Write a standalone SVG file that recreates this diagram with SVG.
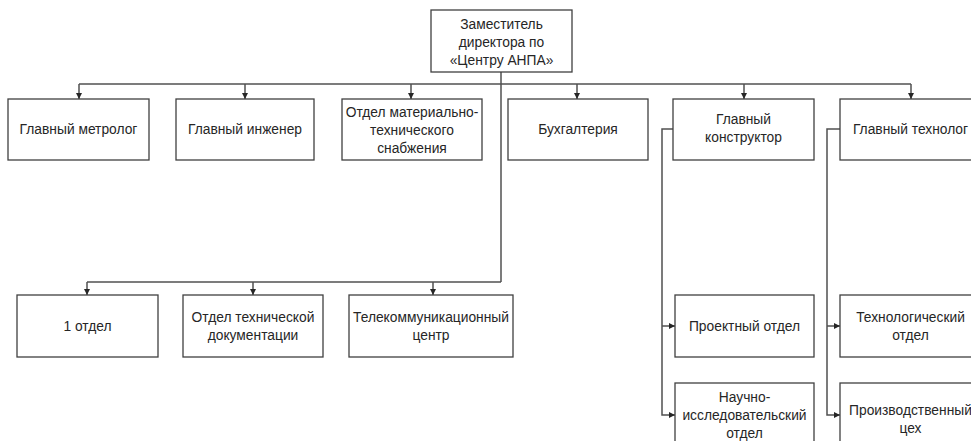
<svg xmlns="http://www.w3.org/2000/svg" width="971" height="441" viewBox="0 0 971 441">
<defs>
<style>
.n rect{fill:#fff;stroke:#404040;stroke-width:1.3}
.n text{font-family:"Liberation Sans",Arial,sans-serif;font-size:13.8px;fill:#262626;text-anchor:middle}
.c path{fill:none;stroke:#505050;stroke-width:1.5}
</style>
<marker id="a" viewBox="0 0 10 10" refX="10" refY="5" markerWidth="6" markerHeight="6" orient="auto" markerUnits="userSpaceOnUse"><path d="M0,0 L10,5 L0,10 z" fill="#262626"/></marker>
</defs>
<rect width="971" height="441" fill="#fff"/>
<g class="c">
<path d="M501,72 V282"/>
<path d="M79,84 H911"/>
<path d="M79,84 V99" marker-end="url(#a)"/>
<path d="M245,84 V99" marker-end="url(#a)"/>
<path d="M411,84 V99" marker-end="url(#a)"/>
<path d="M577,84 V99" marker-end="url(#a)"/>
<path d="M744,84 V99" marker-end="url(#a)"/>
<path d="M911,84 V99" marker-end="url(#a)"/>
<path d="M87,282 H501"/>
<path d="M87,282 V295" marker-end="url(#a)"/>
<path d="M253,282 V295" marker-end="url(#a)"/>
<path d="M433,282 V295" marker-end="url(#a)"/>
<path d="M673,129 H662 V415 H675" marker-end="url(#a)"/>
<path d="M662,326 H675" marker-end="url(#a)"/>
<path d="M840,129 H827 V415 H840" marker-end="url(#a)"/>
<path d="M827,326 H840" marker-end="url(#a)"/>
</g>
<g id="zam" class="n"><rect x="431" y="10" width="141" height="62"/><text x="501.5" y="29">Заместитель</text><text x="501.5" y="47">директора по</text><text x="501.5" y="65">«Центру АНПА»</text></g>
<g id="metrolog" class="n"><rect x="8" y="99" width="141" height="61"/><text x="78.5" y="134">Главный метролог</text></g>
<g id="inzhener" class="n"><rect x="176" y="99" width="138" height="61"/><text x="245" y="134">Главный инженер</text></g>
<g id="omts" class="n"><rect x="342" y="99" width="140" height="61"/><text x="412" y="117">Отдел материально-</text><text x="412" y="135">технического</text><text x="412" y="153">снабжения</text></g>
<g id="buh" class="n"><rect x="508" y="99" width="140" height="61"/><text x="578" y="134">Бухгалтерия</text></g>
<g id="konstr" class="n"><rect x="673" y="99" width="141" height="61"/><text x="743.5" y="124">Главный</text><text x="743.5" y="142">конструктор</text></g>
<g id="tehnolog" class="n"><rect x="840" y="99" width="141" height="61"/><text x="910.5" y="134">Главный технолог</text></g>
<g id="otd1" class="n"><rect x="17" y="295" width="141" height="62"/><text x="87.5" y="331">1 отдел</text></g>
<g id="otd" class="n"><rect x="183" y="295" width="140" height="62"/><text x="253" y="322">Отдел технической</text><text x="253" y="340">документации</text></g>
<g id="telecom" class="n"><rect x="349" y="295" width="164" height="62"/><text x="431" y="322">Телекоммуникационный</text><text x="431" y="340">центр</text></g>
<g id="proekt" class="n"><rect x="675" y="295" width="139" height="62"/><text x="744.5" y="331">Проектный отдел</text></g>
<g id="nio" class="n"><rect x="675" y="383" width="139" height="70"/><text x="744.5" y="402">Научно-</text><text x="744.5" y="420">исследовательский</text><text x="744.5" y="438">отдел</text></g>
<g id="tehotd" class="n"><rect x="840" y="295" width="141" height="62"/><text x="910.5" y="322">Технологический</text><text x="910.5" y="340">отдел</text></g>
<g id="ceh" class="n"><rect x="840" y="383" width="141" height="70"/><text x="910.5" y="415">Производственный</text><text x="910.5" y="433">цех</text></g>
</svg>
